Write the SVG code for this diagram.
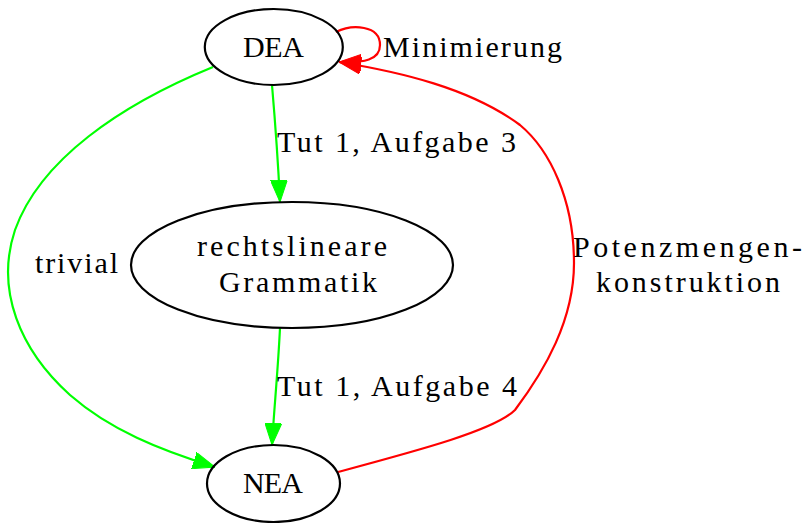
<svg xmlns="http://www.w3.org/2000/svg" width="804" height="523" viewBox="0 0 804 523">
<style>
.node ellipse{fill:none;stroke:#000;stroke-width:2.2}
text{font-family:"Liberation Serif","Times New Roman",serif;font-size:30px;fill:#000}
.edge path{fill:none;stroke-width:2.2}
.g{stroke:#00ff00}
.r{stroke:#ff0000}
</style>
<defs>
<marker id="ag" markerUnits="userSpaceOnUse" markerWidth="22" markerHeight="17" viewBox="0 0 22 17" refX="22" refY="8.5" orient="auto"><path d="M0,0 L22,8.5 L0,17 Z" fill="#00ff00" stroke="#00ff00"/></marker>
<marker id="ar" markerUnits="userSpaceOnUse" markerWidth="22" markerHeight="17" viewBox="0 0 22 17" refX="22" refY="8.5" orient="auto"><path d="M0,0 L22,8.5 L0,17 Z" fill="#ff0000" stroke="#ff0000"/></marker>
</defs>
<rect width="804" height="523" fill="#fff"/>
<g id="edges" class="edge">
<path class="g" d="M272,85 C 275,120 278,160 280,202" marker-end="url(#ag)"/>
<path class="g" d="M280,328 C 278,370 274,410 272,445" marker-end="url(#ag)"/>
<path class="g" d="M213,67 C 120,105 40,160 15,230 C -5,290 20,350 70,395 C 110,430 160,450 215,467" marker-end="url(#ag)"/>
<path class="r" d="M338,472 C 420,450 495,430 515,410 C 545,370 574,320 574,263 C 574,200 550,150 520,125 C 470,88 400,72 339,62" marker-end="url(#ar)"/>
<path class="r" d="M336,32 C 352,24 380,25 380,45 C 380,60 364,63 339,62" marker-end="url(#ar)"/>
<text x="383" y="57" textLength="179" lengthAdjust="spacing">Minimierung</text>
<text x="277" y="152" textLength="239" lengthAdjust="spacing">Tut 1, Aufgabe 3</text>
<text x="277" y="396" textLength="240" lengthAdjust="spacing">Tut 1, Aufgabe 4</text>
<text x="35" y="273" textLength="83" lengthAdjust="spacing">trivial</text>
<text x="573" y="257" textLength="229" lengthAdjust="spacing">Potenzmengen-</text>
<text x="596" y="292" textLength="184" lengthAdjust="spacing">konstruktion</text>
</g>
<g id="DEA" class="node">
<ellipse cx="273.8" cy="47" rx="69" ry="38"/>
<text x="243" y="57" textLength="61" lengthAdjust="spacing">DEA</text>
</g>
<g id="RLG" class="node">
<ellipse cx="292" cy="265" rx="161" ry="63"/>
<text x="197" y="256" textLength="190" lengthAdjust="spacing">rechtslineare</text>
<text x="219" y="292" textLength="158" lengthAdjust="spacing">Grammatik</text>
</g>
<g id="NEA" class="node">
<ellipse cx="273.5" cy="483.5" rx="66.5" ry="38.5"/>
<text x="243" y="493" textLength="60" lengthAdjust="spacing">NEA</text>
</g>
</svg>
